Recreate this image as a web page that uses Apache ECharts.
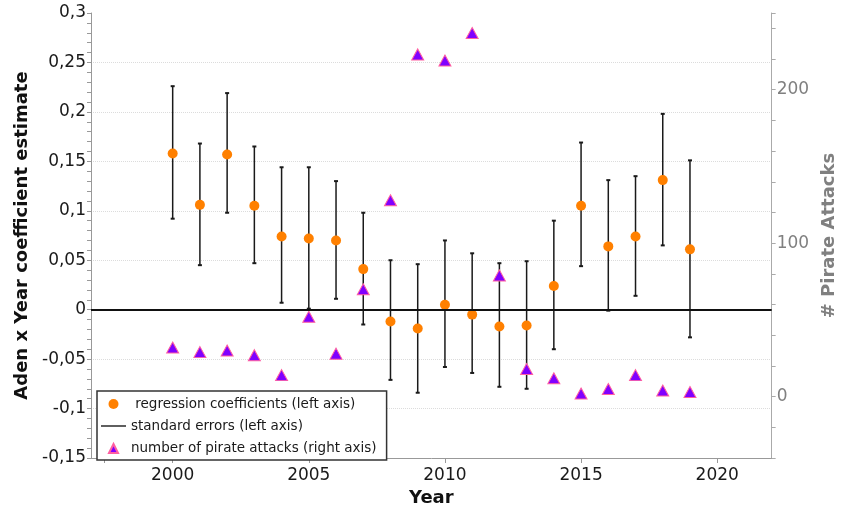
<!DOCTYPE html>
<html>
<head>
<meta charset="utf-8">
<title>Aden x Year coefficients</title>
<script src="https://cdn.jsdelivr.net/npm/echarts@6/dist/echarts.min.js"></script>
<style>
    html, body { margin: 0; padding: 0; background: #fff; }
    #chart { width: 846px; height: 512px; }
</style>
</head>
<body>
<div id="chart"></div>
<script>
const years = [2000, 2001, 2002, 2003, 2004, 2005, 2006, 2007, 2008, 2009,
    2010, 2011, 2012, 2013, 2014, 2015, 2016, 2017, 2018, 2019];
// 回归系数 (左轴)
const coefficients = [0.158, 0.106, 0.157, 0.105, 0.074, 0.072, 0.070, 0.041, -0.012, -0.019,
    0.005, -0.005, -0.017, -0.016, 0.024, 0.105, 0.064, 0.074, 0.131, 0.061];
// 标准误区间上下限 (左轴)
const errLow = [0.092, 0.045, 0.098, 0.047, 0.007, 0.001, 0.011, -0.015, -0.071, -0.084,
    -0.058, -0.064, -0.078, -0.080, -0.040, 0.044, -0.001, 0.014, 0.065, -0.028];
const errHigh = [0.226, 0.168, 0.219, 0.165, 0.144, 0.144, 0.130, 0.098, 0.050, 0.046,
    0.070, 0.057, 0.047, 0.049, 0.090, 0.169, 0.131, 0.135, 0.198, 0.151];
// 海盗袭击次数 (右轴)
const attacks = [32, 29, 30, 27, 14, 52, 28, 70, 128, 223,
    219, 237, 79, 18, 12, 2, 5, 14, 4, 3];
const yearTicks = [1997.5, 2000, 2005, 2010, 2015, 2020];
const yearLabels = [2000, 2005, 2010, 2015, 2020];

!function () {
    const chart = echarts.init(document.getElementById('chart'), null, {renderer: 'canvas'});
    const font = 'DejaVu Sans';

    function renderErrorBar(params, api) {
        const x = api.value(0);
        const lo = api.coord([x, api.value(1)]);
        const hi = api.coord([x, api.value(2)]);
        const cap = 2;
        const style = {stroke: '#1a1a1a', lineWidth: 1.5};
        return {
            type: 'group',
            children: [
                {type: 'line', shape: {x1: lo[0], y1: lo[1], x2: hi[0], y2: hi[1]}, style: style},
                {type: 'line', shape: {x1: hi[0] - cap, y1: hi[1], x2: hi[0] + cap, y2: hi[1]}, style: {stroke: '#1a1a1a', lineWidth: 2}},
                {type: 'line', shape: {x1: lo[0] - cap, y1: lo[1], x2: lo[0] + cap, y2: lo[1]}, style: {stroke: '#1a1a1a', lineWidth: 2}}
            ]
        };
    }

    const option = {
        animation: false,
        backgroundColor: '#fff',
        textStyle: {fontFamily: font},
        grid: {left: 91, right: 72, top: 13, bottom: 51},
        legend: {
            orient: 'vertical',
            left: 97,
            top: 391,
            padding: [6, 10, 5, 3],
            itemWidth: 25,
            itemHeight: 10,
            itemGap: 8,
            backgroundColor: '#fff',
            borderColor: '#333',
            borderWidth: 1.5,
            textStyle: {fontFamily: font, fontSize: 13.5, color: '#1a1a1a'},
            data: [
                {name: ' regression coefficients (left axis)', icon: 'circle'},
                {name: 'standard errors (left axis)', icon: 'path://M0,0L0,0M0,10L0,10M0,4.3H25V5.7H0Z', itemStyle: {color: '#1a1a1a'}},
                {name: 'number of pirate attacks (right axis)', icon: 'path://M0,0L0,0M25,10L25,10M12.5,1L17,10H8Z'}
            ]
        },
        xAxis: {
            type: 'value',
            min: 1997,
            max: 2022,
            name: 'Year',
            nameLocation: 'middle',
            nameGap: 31,
            nameTextStyle: {fontFamily: font, fontSize: 18, fontWeight: 'bold', color: '#111'},
            axisLine: {onZero: false, lineStyle: {color: '#999', width: 1}},
            axisTick: {show: true, length: 5, customValues: yearTicks, lineStyle: {color: '#999'}},
            axisLabel: {
                customValues: yearLabels,
                fontSize: 17,
                color: '#1a1a1a',
                margin: 9,
                formatter: v => String(v)
            },
            splitLine: {show: false}
        },
        yAxis: [
            {
                type: 'value',
                min: -0.15,
                max: 0.3,
                interval: 0.05,
                name: 'Aden x Year coefficient estimate',
                nameLocation: 'middle',
                nameRotate: 90,
                nameGap: 56,
                nameTextStyle: {fontFamily: font, fontSize: 18, fontWeight: 'bold', color: '#111'},
                axisLine: {show: true, onZero: false, lineStyle: {color: '#999'}},
                axisTick: {show: true, length: 4, lineStyle: {color: '#999'}},
                minorTick: {show: true, splitNumber: 5, length: 4, lineStyle: {color: '#999'}},
                axisLabel: {
                    fontSize: 17,
                    color: '#1a1a1a',
                    margin: 5,
                    formatter: v => String(Math.round(v * 100) / 100).replace('.', ',')
                },
                splitLine: {
                    show: true,
                    showMinLine: false,
                    showMaxLine: false,
                    lineStyle: {color: '#dcdcdc', type: 'dotted', width: 1}
                }
            },
            {
                type: 'value',
                position: 'right',
                min: -40,
                max: 250,
                interval: 20,
                name: '# Pirate Attacks',
                nameLocation: 'middle',
                nameRotate: 90,
                nameGap: 46,
                nameTextStyle: {fontFamily: font, fontSize: 18, fontWeight: 'bold', color: '#808080'},
                axisLine: {show: true, onZero: false, lineStyle: {color: '#aaa'}},
                axisTick: {show: true, length: 4, lineStyle: {color: '#aaa'}},
                axisLabel: {
                    fontSize: 17,
                    color: '#808080',
                    margin: 5,
                    formatter: v => (v % 100 === 0 && v >= 0 && v <= 200) ? String(v) : ''
                },
                splitLine: {show: false}
            }
        ],
        series: [
            {
                name: 'standard errors (left axis)',
                type: 'custom',
                yAxisIndex: 0,
                z: 2,
                renderItem: renderErrorBar,
                encode: {x: 0, y: [1, 2]},
                data: years.map((y, i) => [y, errLow[i], errHigh[i]]),
                markLine: {
                    silent: true,
                    symbol: 'none',
                    label: {show: false},
                    lineStyle: {color: '#111', width: 2, type: 'solid'},
                    data: [{yAxis: 0}]
                }
            },
            {
                name: ' regression coefficients (left axis)',
                type: 'scatter',
                yAxisIndex: 0,
                z: 3,
                symbol: 'circle',
                symbolSize: 10,
                itemStyle: {color: '#ff8000', opacity: 1},
                data: years.map((y, i) => [y, coefficients[i]])
            },
            {
                name: 'number of pirate attacks (right axis)',
                type: 'scatter',
                yAxisIndex: 1,
                z: 4,
                symbol: 'triangle',
                symbolSize: [12, 11],
                itemStyle: {color: '#8000ff', borderColor: '#ff5fa0', borderWidth: 1, opacity: 1},
                data: years.map((y, i) => [y, attacks[i]])
            }
        ]
    };
    chart.setOption(option);
}();
</script>
</body>
</html>
